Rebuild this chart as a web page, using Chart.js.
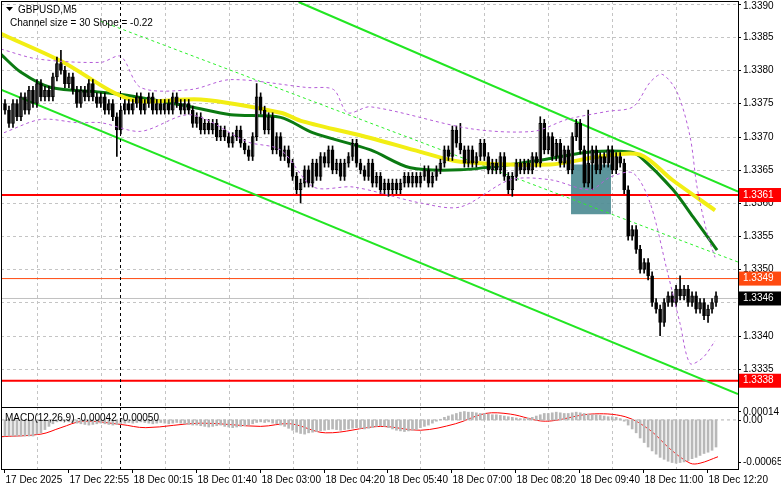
<!DOCTYPE html>
<html>
<head>
<meta charset="utf-8">
<script src="https://cdn.jsdelivr.net/npm/chart.js@4.4.1/dist/chart.umd.min.js"></script>
<style>
body { margin: 0; background: #fff; width: 781px; height: 489px; overflow: hidden; }
#main { position: absolute; left: 0; top: 0; }
#macd { position: absolute; left: 0; top: 406px; }
</style>
</head>
<body>
<canvas id="main" width="781" height="408"></canvas>
<canvas id="macd" width="781" height="83"></canvas>
<script>
// prezzi di chiusura, una candela ogni 5 minuti (indice = barra)
const closes = [
  1.3374,1.3372,1.3375,1.3373,1.3376,1.3374,1.3377,1.3375,1.3378,1.3376,
  1.3377,1.3376,1.3379,1.3381,1.3380,1.3378,1.3379,1.3377,1.3375,1.3377,
  1.3376,1.3378,1.3376,1.3375,1.3376,1.3374,1.3375,1.3373,1.3371,1.3374,
  1.3375,1.3374,1.3375,1.3376,1.3374,1.3375,1.3376,1.3374,1.3375,1.3374,
  1.3375,1.3374,1.3376,1.3375,1.3374,1.3375,1.3374,1.3372,1.3373,1.3371,
  1.3372,1.3371,1.3372,1.3370,1.3371,1.3370,1.3369,1.3370,1.3371,1.3369,
  1.3368,1.3367,1.3370,1.3376,1.3374,1.3371,1.3373,1.3368,1.3370,1.3367,
  1.3368,1.3366,1.3364,1.3362,1.3363,1.3365,1.3363,1.3366,1.3364,1.3367,
  1.3366,1.3368,1.3365,1.3366,1.3364,1.3366,1.3367,1.3369,1.3366,1.3365,
  1.3364,1.3366,1.3363,1.3364,1.3362,1.3363,1.3362,1.3363,1.3362,1.3363,
  1.3364,1.3363,1.3364,1.3363,1.3364,1.3365,1.3363,1.3364,1.3365,1.3366,
  1.3368,1.3367,1.3371,1.3369,1.3368,1.3366,1.3368,1.3366,1.3367,1.3369,
  1.3367,1.3365,1.3366,1.3365,1.3367,1.3364,1.3362,1.3364,1.3366,1.3365,
  1.3366,1.3365,1.3367,1.3366,1.3372,1.3368,1.3370,1.3367,1.3369,1.3366,
  1.3368,1.3365,1.3370,1.3372,1.3368,1.3363,1.3366,1.3368,1.3365,1.3367,
  1.3366,1.3368,1.3365,1.3367,1.3366,1.3362,1.3355,1.3356,1.3353,1.3350,
  1.3351,1.3349,1.3345,1.3344,1.3342,1.3345,1.3346,1.3345,1.3347,1.3346,
  1.3347,1.3345,1.3346,1.3344,1.3345,1.3343,1.3344,1.3345,1.3346
];
const firstOpen = 1.3375;
const spikeHigh = {13: 1.3382, 14: 1.3383, 63: 1.3378, 114: 1.3372, 134: 1.3373, 146: 1.3374, 169: 1.3349};
const spikeLow = {28: 1.3367, 74: 1.3360, 96: 1.3361, 127: 1.3361, 147: 1.3362, 164: 1.3340, 176: 1.3342};
const wick = 0.00006;

// medie mobili e bande ([barra, prezzo])
const maSlow = [[-1,1.33855],[14,1.33814],[31.5,1.33756],[49,1.33756],[69,1.33736],[74.5,1.33723],[91.5,1.33698],[104,1.33677],[114,1.33662],[136.5,1.33658],[149,1.33670],[159,1.33673],[167,1.33635],[177.75,1.33589]];
const maFast = [[-1,1.33824],[4,1.33797],[11.5,1.33774],[24,1.33767],[32,1.33761],[46.5,1.33745],[56.5,1.33733],[69,1.33729],[77,1.33706],[91.5,1.33680],[101.5,1.33653],[114,1.33650],[126.5,1.33658],[136.5,1.33667],[146.5,1.33677],[156.5,1.33677],[159,1.33670],[167.25,1.33620],[172.25,1.33579],[178.25,1.33529]];
const bandUp = [[-1,1.33832],[8.25,1.33817],[24,1.33812],[29,1.33821],[34,1.33774],[46.5,1.33771],[56.5,1.33786],[75.75,1.33774],[82.25,1.33771],[85.75,1.33736],[91.5,1.33745],[116.5,1.33712],[132.25,1.33708],[140.75,1.33726],[150.75,1.33738],[157.25,1.33745],[161.5,1.33782],[164.5,1.33794],[168.25,1.33767],[171.5,1.33700],[173.25,1.33624],[175.75,1.33555],[177.75,1.33518]];
const bandDn = [[-0.25,1.33706],[9,1.33726],[18.25,1.33721],[24,1.33721],[34,1.33708],[46.5,1.33733],[60.75,1.33692],[69,1.33680],[77.25,1.33624],[87.25,1.33624],[104,1.33600],[114,1.33594],[126.5,1.33635],[136.5,1.33635],[146.5,1.33620],[151.5,1.33639],[157.25,1.33645],[161.5,1.33600],[165.75,1.33498],[169,1.33418],[171.5,1.33358],[174.75,1.33367],[177.75,1.33392]];

// canale di regressione
const chanUp = [[73.5,1.33903],[183.5,1.33617]];
const chanMid = [[24,1.33874],[183.5,1.33511]];
const chanDn = [[-1,1.33771],[183.5,1.33312]];

// livelli: posizione sul grafico e testo dell'etichetta
const levelPrices = [1.33612, 1.33486, 1.33456, 1.33332];
const levelText = ['1.3361', '1.3349', '1.3346', '1.3338'];
const levelColors = ['#ff0000', '#ff4a10', '#000000', '#ff0000'];
const zoneBars = [141.7, 151.7];
const zonePrices = [1.33583, 1.33658];
const sessionBar = 28.75;

const priceTicks = [1.3335,1.3340,1.3345,1.3350,1.3355,1.3360,1.3365,1.3370,1.3375,1.3380,1.3385,1.3390];
const macdTicks = [0.00014, 0, -0.00065];
const macdTickText = ['0.00014', '0.00', '-0.00065'];
const timeLabels = ['17 Dec 2025','17 Dec 22:55','18 Dec 00:15','18 Dec 01:40','18 Dec 03:00','18 Dec 04:20',
  '18 Dec 05:40','18 Dec 07:00','18 Dec 08:20','18 Dec 09:40','18 Dec 11:00','18 Dec 12:20'];

// MACD istogramma (una barra per candela) e linea di segnale
const macdHist = [
  -0.00025,-0.00025,-0.00025,-0.00025,-0.00025,-0.00025,-0.00025,-0.00025,-0.00022,-0.0002,
  -0.00015,-0.0001,-0.00006,-0.00003,-0.00002,
  -0.00002,-0.00003,-0.00004,-0.00005,-0.00006,-0.00007,-0.00008,-0.00007,-0.00006,-0.00005,-0.00006,-0.00007,-0.00008,-0.00007,-0.00006,-0.00005,
  -0.00004,-0.00005,-0.00004,-0.00003,-0.00004,-0.00005,-0.00006,-0.00005,-0.00004,-0.00005,-0.00006,-0.00005,-0.00004,-0.00005,-0.00006,-0.00007,-0.00008,-0.00008,
  -0.00009,-0.0001,-0.00011,-0.0001,-0.00009,-0.00008,-0.0001,-0.00011,-0.00012,-0.00011,-0.0001,-0.00009,-0.00008,-0.00006,-0.00004,
  -0.00003,-0.00004,-0.00003,-0.00005,-0.00006,-0.00008,-0.0001,-0.00013,
  -0.00016,-0.00019,-0.00021,-0.00022,-0.0002,-0.00019,-0.00018,-0.00017,-0.00016,-0.00015,
  -0.00014,-0.00015,-0.00016,-0.00015,-0.00014,-0.00013,-0.00012,-0.00013,-0.00014,-0.00013,-0.00012,
  -0.0001,-0.00009,-0.0001,-0.00012,-0.00014,-0.00016,
  -0.00017,-0.00018,-0.00017,-0.00016,-0.00015,
  -0.00012,-0.0001,-0.00008,-0.00005,-0.00002,0.00001,0.00004,0.00006,
  0.00008,0.0001,0.00012,0.00013,0.00012,0.00012,0.00011,0.0001,0.0001,0.00009,0.00008,0.00008,0.00007,0.00006,0.00005,
  0.00004,0.00003,0.00002,0.00002,0.00003,0.00004,0.00006,
  0.00008,0.0001,0.0001,0.00011,0.00012,0.00011,0.0001,0.0001,0.00011,0.00012,
  0.00011,0.0001,0.00009,0.00008,0.00008,0.00007,0.00006,0.00005,0.00005,0.00004,
  0.00002,-0.00002,-0.00008,-0.00014,-0.0002,
  -0.00028,-0.00035,-0.00042,-0.00048,-0.00053,
  -0.00058,-0.00061,-0.00064,-0.00066,-0.00067,-0.00066,-0.00065,-0.00063,
  -0.0006,-0.00058,-0.00055,-0.00052,-0.0005,-0.00047,-0.00042
];
const macdSignal = [[-1,-0.00026],[9,-0.00022],[14,-0.00012],[19.5,-0.00002],[29,-0.00007],[35.25,-0.00012],[49,-0.00005],[64,-0.0001],[71.5,-0.00006],[80.25,-0.0002],[94,-0.0001],[104,-0.00016],[112.75,-0.00006],[120.25,0.0001],[126.5,0.00009],[135.25,-0.00002],[146.5,0.00009],[155.25,0.00005],[161.5,-0.00016],[166.5,-0.00045],[171.5,-0.00067],[174,-0.00067],[178.5,-0.00057]];

const FONT = '"Liberation Sans", Arial, sans-serif';
const xMin = -1, xMax = 183.5;
const pts = arr => arr.map(p => ({x: p[0], y: p[1]}));
const hline = v => [{x: xMin, y: v}, {x: xMax, y: v}];

const opens = closes.map((c, i) => i === 0 ? firstOpen : closes[i - 1]);
const highs = closes.map((c, i) => spikeHigh[i] !== undefined ? spikeHigh[i] : Math.max(c, opens[i]) + wick);
const lows = closes.map((c, i) => spikeLow[i] !== undefined ? spikeLow[i] : Math.min(c, opens[i]) - wick);

function lineDs(data, color, width, dash, tension) {
    return { type: 'line', data: data, borderColor: color, borderWidth: width, borderDash: dash || [],
             pointRadius: 0, fill: false, tension: tension || 0 };
}

// asse destro disegnato a mano (niente padding automatico delle etichette)
function yAxis(min, max) {
    return { position: 'right', min: min, max: max,
             afterFit: s => { s.width = 43; },
             grid: { display: false }, border: { display: false }, ticks: { display: false } };
}

// griglia tratteggiata, bordo e linea verticale di sessione
const gridPlugin = {
    id: 'grid',
    beforeDatasetsDraw(chart, args, opts) {
        const {ctx, chartArea: a, scales: {x, y}} = chart;
        ctx.save();
        ctx.strokeStyle = '#c4c4c4';
        ctx.lineWidth = 1;
        ctx.setLineDash([3, 3]);
        for (let i = 8; i < xMax; i += 16) {
            const px = Math.round(x.getPixelForValue(i)) + 0.5;
            ctx.beginPath(); ctx.moveTo(px, a.top); ctx.lineTo(px, a.bottom); ctx.stroke();
        }
        (opts.hTicks || []).forEach(v => {
            const py = Math.round(y.getPixelForValue(v)) + 0.5;
            ctx.beginPath(); ctx.moveTo(a.left, py); ctx.lineTo(a.right, py); ctx.stroke();
        });
        if (opts.zone) {
            ctx.setLineDash([]);
            ctx.fillStyle = 'rgba(78,140,148,0.92)';
            const x0 = x.getPixelForValue(zoneBars[0]), x1 = x.getPixelForValue(zoneBars[1]);
            const y0 = y.getPixelForValue(zonePrices[1]), y1 = y.getPixelForValue(zonePrices[0]);
            ctx.fillRect(x0, y0, x1 - x0, y1 - y0);
        }
        ctx.restore();
    },
    afterDatasetsDraw(chart, args, opts) {
        const {ctx, chartArea: a, scales: {x, y}} = chart;
        ctx.save();
        ctx.strokeStyle = '#000';
        ctx.setLineDash([3, 3]);
        const sx = Math.round(x.getPixelForValue(sessionBar)) + 0.5;
        ctx.beginPath(); ctx.moveTo(sx, a.top); ctx.lineTo(sx, a.bottom); ctx.stroke();
        ctx.setLineDash([]);
        ctx.strokeRect(a.left + 0.5, a.top + 0.5, a.right - a.left, a.bottom - a.top);
        ctx.font = '10px ' + FONT;
        ctx.fillStyle = '#000';
        ctx.textBaseline = 'middle';
        (opts.yTicks || []).forEach((v, k) => {
            const py = Math.round(y.getPixelForValue(v)) + 0.5;
            ctx.beginPath(); ctx.moveTo(a.right, py); ctx.lineTo(a.right + 3, py); ctx.stroke();
            ctx.fillText(opts.yText[k], a.right + 5, Math.max(py, a.top + 5));
        });
        ctx.restore();
    }
};

// etichette colorate dei livelli sull'asse destro + testi
const mainLabels = {
    id: 'mainLabels',
    afterDraw(chart) {
        const {ctx, chartArea: a, scales: {y}} = chart;
        ctx.save();
        ctx.font = '10px ' + FONT;
        ctx.textBaseline = 'middle';
        levelPrices.forEach((v, k) => {
            const py = y.getPixelForValue(v);
            ctx.fillStyle = levelColors[k];
            ctx.fillRect(a.right + 1, py - 7, 42, 14);
            ctx.fillStyle = '#fff';
            ctx.fillText(levelText[k], a.right + 5, py);
        });
        ctx.fillStyle = '#000';
        ctx.fillText('GBPUSD,M5', 18, 10);
        ctx.fillText('Channel size = 30 Slope = -0.22', 10, 23);
        ctx.beginPath();
        ctx.moveTo(6, 7); ctx.lineTo(13, 7); ctx.lineTo(9.5, 11); ctx.closePath(); ctx.fill();
        ctx.restore();
    }
};

new Chart(document.getElementById('main'), {
    type: 'bar',
    data: {
        datasets: [
            lineDs(pts(bandUp), '#b45cd8', 1, [3, 3], 0.3),
            lineDs(pts(bandDn), '#b45cd8', 1, [3, 3], 0.3),
            { data: closes.map((c, i) => ({x: i, y: [lows[i], highs[i]]})), backgroundColor: '#000',
              barThickness: 1, grouped: false },
            { data: closes.map((c, i) => ({x: i, y: [opens[i], c === opens[i] ? c + 0.000015 : c]})),
              backgroundColor: closes.map((c, i) => c > opens[i] ? '#fff' : '#000'),
              borderColor: '#000', borderWidth: 1, borderSkipped: false, barThickness: 3, grouped: false },
            lineDs(pts(maSlow), '#f2ee14', 4, [], 0.3),
            lineDs(pts(maFast), '#0b7a12', 3, [], 0.3),
            lineDs(pts(chanUp), '#22e622', 2),
            lineDs(pts(chanMid), '#2cf02c', 1, [3, 3]),
            lineDs(pts(chanDn), '#22e622', 2),
            lineDs(hline(levelPrices[0]), '#ff0000', 2),
            lineDs(hline(levelPrices[3]), '#ff0000', 2),
            lineDs(hline(levelPrices[1]), '#ff4a10', 1),
            lineDs(hline(levelPrices[2]), '#c0c0c0', 1)
        ]
    },
    options: {
        responsive: false,
        animation: false,
        layout: { padding: { left: 1, top: 1, bottom: 1 } },
        plugins: { legend: { display: false }, tooltip: { enabled: false },
                   grid: { hTicks: priceTicks, zone: true, yTicks: priceTicks, yText: priceTicks.map(v => v.toFixed(4)) } },
        scales: {
            x: { type: 'linear', min: xMin, max: xMax, offset: false, display: false },
            y: yAxis(1.332924, 1.339045)
        }
    },
    plugins: [gridPlugin, mainLabels]
});

const macdText = {
    id: 'macdText',
    afterDraw(chart) {
        const {ctx, chartArea: a, scales: {x}} = chart;
        ctx.save();
        ctx.font = '10px ' + FONT;
        ctx.fillStyle = '#000';
        ctx.textBaseline = 'middle';
        ctx.fillText('MACD(12,26,9) -0.00042 -0.00050', 5, a.top + 11);
        ctx.strokeStyle = '#000';
        ctx.textBaseline = 'top';
        timeLabels.forEach((t, k) => {
            const px = Math.round(x.getPixelForValue(k * 16 - 0.25)) + 0.5;
            ctx.beginPath(); ctx.moveTo(px, a.bottom); ctx.lineTo(px, a.bottom + 4); ctx.stroke();
            ctx.fillText(t, px + 1, a.bottom + 6);
        });
        ctx.restore();
    }
};

new Chart(document.getElementById('macd'), {
    type: 'bar',
    data: {
        datasets: [
            { data: macdHist.map((v, i) => ({x: i, y: v})), backgroundColor: '#b8b8b8',
              barThickness: 2, grouped: false },
            lineDs(hline(0), '#b0b0b0', 1, [3, 3]),
            lineDs(pts(macdSignal), '#ff0000', 1, [], 0.35)
        ]
    },
    options: {
        responsive: false,
        animation: false,
        layout: { padding: { left: 1, top: 1, bottom: 20 } },
        plugins: { legend: { display: false }, tooltip: { enabled: false },
                   grid: { hTicks: [], yTicks: macdTicks, yText: macdTickText } },
        scales: {
            x: { type: 'linear', min: xMin, max: xMax, offset: false, display: false },
            y: yAxis(-0.00076, 0.0002)
        }
    },
    plugins: [gridPlugin, macdText]
});
</script>
</body>
</html>
